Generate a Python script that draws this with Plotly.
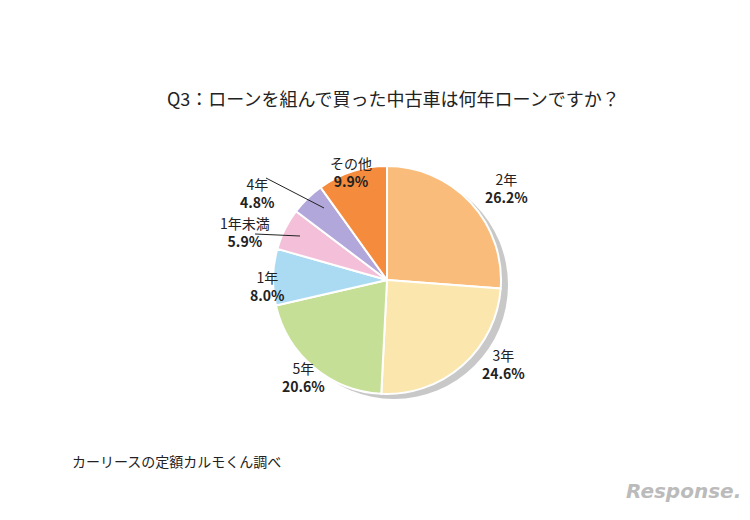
import plotly.graph_objects as go

labels = ["2年", "3年", "5年", "1年", "1年未満", "4年", "その他"]
values = [26.2, 24.6, 20.6, 8.0, 5.9, 4.8, 9.9]
colors = ["#F9BC7A", "#FBE6AE", "#C6DF96", "#ABDAF3", "#F4C0D9", "#B2A7DA", "#F58B3C"]
# label anchor positions in pixels (x, y) in the 750x520 canvas
label_pos = [(522, 180), (495, 377), (295, 390), (240, 278), (210, 224), (230, 164), (343, 143)]

W, H = 750, 520
cx, cy, r = 379, 272, 114

def dom(cx, cy, r):
    return dict(x=[(cx - r) / W, (cx + r) / W], y=[1 - (cy + r) / H, 1 - (cy - r) / H])

fig = go.Figure()
fig.add_trace(go.Pie(values=[1], marker=dict(colors=["#C8C8C8"]), textinfo="none",
                     hoverinfo="skip", showlegend=False, domain=dom(cx + 7, cy + 5, r), sort=False))
fig.add_trace(go.Pie(labels=labels, values=values, marker=dict(colors=colors, line=dict(color="white", width=2)),
                     textinfo="none", sort=False, direction="clockwise", rotation=0,
                     showlegend=False, domain=dom(cx, cy, r)))

anns = []
for lab, v, (x, y) in zip(labels, values, label_pos):
    anns.append(dict(x=x / W, y=1 - y / H, xref="paper", yref="paper", showarrow=False,
                     text=f"{lab}<br><b>{v:.1f}%</b>", align="center",
                     font=dict(size=14, color="#222", family="Noto Sans CJK JP")))
anns.append(dict(x=385 / W, y=1 - 75 / H, xref="paper", yref="paper", showarrow=False,
                 text="Q3：ローンを組んで買った中古車は何年ローンですか？",
                 font=dict(size=18, color="#222", family="Noto Sans CJK JP")))
anns.append(dict(x=62 / W, y=1 - 465 / H, xref="paper", yref="paper", showarrow=False, xanchor="left",
                 text="カーリースの定額カルモくん調べ",
                 font=dict(size=14, color="#222", family="Noto Sans CJK JP")))
anns.append(dict(x=735 / W, y=1 - 497 / H, xref="paper", yref="paper", showarrow=False, xanchor="right",
                 text="<i><b>Response.</b></i>",
                 font=dict(size=20, color="#BBBBBB", family="DejaVu Sans")))

shapes = [
    dict(type="line", xref="paper", yref="paper", x0=258 / W, y0=1 - 170 / H, x1=316 / W, y1=1 - 200 / H,
         line=dict(color="#222", width=1)),
    dict(type="line", xref="paper", yref="paper", x0=247 / W, y0=1 - 226 / H, x1=292 / W, y1=1 - 228 / H,
         line=dict(color="#222", width=1)),
]

fig.update_layout(width=W, height=H, margin=dict(l=0, r=0, t=0, b=0),
                  paper_bgcolor="white", plot_bgcolor="white", annotations=anns, shapes=shapes)
fig.write_html("out.html")
